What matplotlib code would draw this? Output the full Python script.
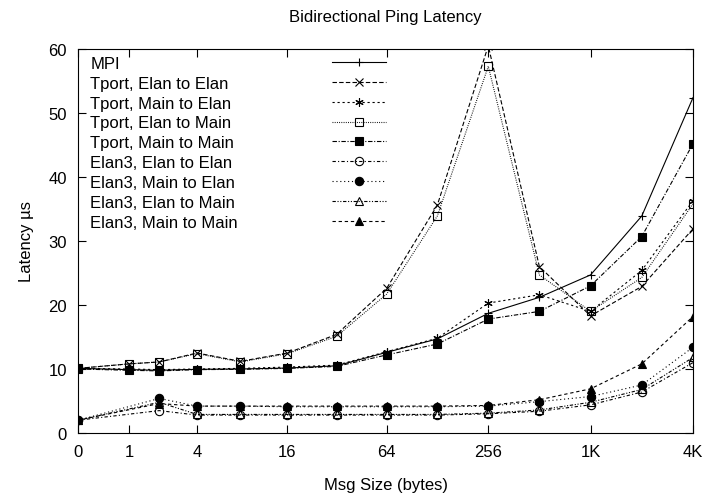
import numpy as np
import matplotlib
matplotlib.use("Agg")
import matplotlib.pyplot as plt

plt.rcParams['font.family'] = ['Liberation Sans', 'DejaVu Sans']

# message sizes (bytes)
sizes_t = [0, 1, 2, 4, 8, 16, 32, 64, 128, 256, 512, 1024, 2048, 4096]
sizes_e = [0, 2, 4, 8, 16, 32, 64, 128, 256, 512, 1024, 2048, 4096]

# latencies (us)
mpi = [10.1, 9.9, 9.8, 9.95, 10.0, 10.15, 10.5, 12.6, 14.7, 18.7, 21.2, 24.7, 33.9, 52.4]
tport_e2e = [10.1, 10.8, 11.1, 12.5, 11.2, 12.5, 15.4, 22.6, 35.6, 60.5, 26.0, 18.3, 22.9, 31.9]
tport_m2e = [10.1, 10.0, 9.9, 10.0, 10.1, 10.3, 10.6, 12.7, 14.8, 20.3, 21.6, 19.0, 25.4, 36.3]
tport_e2m = [10.1, 10.8, 11.1, 12.4, 11.1, 12.4, 15.1, 21.7, 33.9, 57.3, 24.7, 19.0, 24.3, 35.8]
tport_m2m = [10.0, 9.8, 9.7, 9.9, 9.95, 10.1, 10.4, 12.2, 13.9, 17.8, 19.0, 23.0, 30.7, 45.2]

elan3_e2e = [2.0, 3.5, 2.8, 2.8, 2.8, 2.8, 2.8, 2.8, 3.0, 3.4, 4.4, 6.4, 11.0]
elan3_m2e = [2.0, 5.4, 4.2, 4.2, 4.1, 4.1, 4.1, 4.1, 4.2, 4.9, 5.7, 7.5, 13.4]
elan3_e2m = [2.0, 4.8, 2.9, 2.9, 2.9, 2.9, 2.9, 2.9, 3.1, 3.6, 4.8, 6.8, 11.8]
elan3_m2m = [2.0, 4.6, 4.2, 4.2, 4.2, 4.2, 4.2, 4.2, 4.3, 5.2, 6.9, 10.8, 18.2]

tick_vals = [0, 1, 4, 16, 64, 256, 1024, 4096]
tick_labels = ["0", "1", "4", "16", "64", "256", "1K", "4K"]

series = [
    ("MPI", sizes_t, mpi, "-", "+", "k"),
    ("Tport, Elan to Elan", sizes_t, tport_e2e, (0, (4, 2)), "x", "k"),
    ("Tport, Main to Elan", sizes_t, tport_m2e, (0, (2, 2.5)), (6, 2, 0), "k"),
    ("Tport, Elan to Main", sizes_t, tport_e2m, (0, (0.8, 1.2)), "s", "none"),
    ("Tport, Main to Main", sizes_t, tport_m2m, (0, (4, 1.5, 1, 1.5)), "s", "k"),
    ("Elan3, Elan to Elan", sizes_e, elan3_e2e, (0, (3, 2, 1, 2)), "o", "none"),
    ("Elan3, Main to Elan", sizes_e, elan3_m2e, (0, (1, 2.5)), "o", "k"),
    ("Elan3, Elan to Main", sizes_e, elan3_e2m, (0, (3, 1.5, 1, 1.5, 1, 1.5)), "^", "none"),
    ("Elan3, Main to Main", sizes_e, elan3_m2m, (0, (3, 2.5)), "^", "k"),
]

fig = plt.figure(figsize=(7.07, 5.02), dpi=100)
ax = fig.add_axes([78 / 707, 68 / 502, 615 / 707, 384 / 502])

ax.set_xscale("function", functions=(lambda x: np.log2(np.asarray(x, float) + 1),
                                     lambda y: 2.0 ** np.asarray(y, float) - 1))

lines = []
for label, xs, ys, ls, mk, fc in series:
    ln, = ax.plot(xs, ys, linestyle=ls, marker=mk, color="k", lw=0.8,
                  markersize=6, markerfacecolor=fc, markeredgewidth=0.8, label=label)
    lines.append(ln)
labels = [s[0] for s in series]

ax.set_xlim(0, 4096)
ax.set_ylim(0, 60)
ax.set_xticks(tick_vals)
ax.set_xticklabels(tick_labels)
ax.set_yticks(range(0, 61, 10))
ax.minorticks_off()
ax.tick_params(direction="in", length=6, width=0.8, top=True, right=True,
               labelsize=12, pad=8)
for sp in ax.spines.values():
    sp.set_linewidth(0.8)

ax.set_title("Bidirectional Ping Latency", fontsize=12, pad=20)
ax.set_xlabel("Msg Size (bytes)", fontsize=12, labelpad=13)
ax.set_ylabel("Latency µs", fontsize=12, labelpad=10)

# gnuplot-style key: left-aligned labels, samples in a column on the right
leg_kw = dict(frameon=False, fontsize=12, labelspacing=0.29, borderpad=0,
              borderaxespad=0, loc="upper left")
key_text = ax.legend(lines, labels, handlelength=0, handletextpad=0,
                     bbox_to_anchor=(0.02, 0.982), **leg_kw)
for h in key_text.legend_handles:
    h.set_visible(False)
ax.add_artist(key_text)

key_lines = ax.legend(lines, labels, handlelength=3.25, handletextpad=0,
                      bbox_to_anchor=(0.413, 0.982), **leg_kw)
for t in key_lines.get_texts():
    t.set_color("none")

fig.savefig("out.png", dpi=100)
